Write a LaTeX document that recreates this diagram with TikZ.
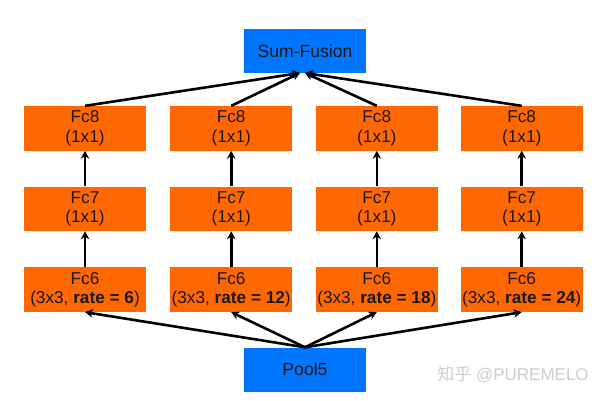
\documentclass[tikz,border=0pt]{standalone}
\usepackage{fontspec}
\setmainfont{Liberation Sans}
\newfontfamily\cjkfont{Noto Sans CJK SC}
\usetikzlibrary{arrows.meta}
\definecolor{boxorange}{RGB}{255,104,0}
\definecolor{boxblue}{RGB}{0,118,255}
\definecolor{txt}{RGB}{25,25,25}
\definecolor{wmark}{RGB}{205,205,205}
\tikzset{
  layerbox/.style={fill=boxorange, minimum width=121.7pt, minimum height=44.5pt, inner sep=0pt,
    align=center, font=\fontsize{17.2}{19.5}\selectfont, text=txt},
  ioboxstyle/.style={fill=boxblue, minimum width=121.7pt, minimum height=44pt, inner sep=0pt,
    align=center, font=\fontsize{17.6}{19.5}\selectfont, text=txt},
  conn/.style={line width=2.6pt, -{Stealth[length=8pt,width=8.5pt]}, black}
}
\begin{document}
\begin{tikzpicture}[x=1pt,y=-1pt]
\useasboundingbox (0,0) rectangle (605,401);
\node[ioboxstyle] (sum) at (305,50.8) {Sum-Fusion};
\node[ioboxstyle] (pool) at (305,369.5) {Pool5};
\foreach \i/\x/\r in {1/85/6, 2/231.2/12, 3/376.8/18, 4/521.7/24} {
  \node[layerbox] (fc8\i) at (\x,128.3) {Fc8\\(1x1)};
  \node[layerbox] (fc7\i) at (\x,208.8) {Fc7\\(1x1)};
  \node[layerbox] (fc6\i) at (\x,289.7) {Fc6\\(3x3, \textbf{rate = \r})};
  \draw[conn] (fc6\i.north) -- (fc7\i.south);
  \draw[conn] (fc7\i.north) -- (fc8\i.south);
  \draw[conn] (pool.north) -- (fc6\i.south);
}
\coordinate (sinL) at ([xshift=-5pt]sum.south);
\coordinate (sinR) at ([xshift=0pt]sum.south);
\draw[conn] (fc81.north) -- (sinL);
\draw[conn] (fc82.north) -- (sinL);
\draw[conn] (fc83.north) -- (sinR);
\draw[conn] (fc84.north) -- (sinR);
\node[text=wmark, font=\fontsize{17}{20}\selectfont, anchor=center] (wm) at (513,375) {{\cjkfont 知乎} @PUREMELO};
\end{tikzpicture}
\end{document}
